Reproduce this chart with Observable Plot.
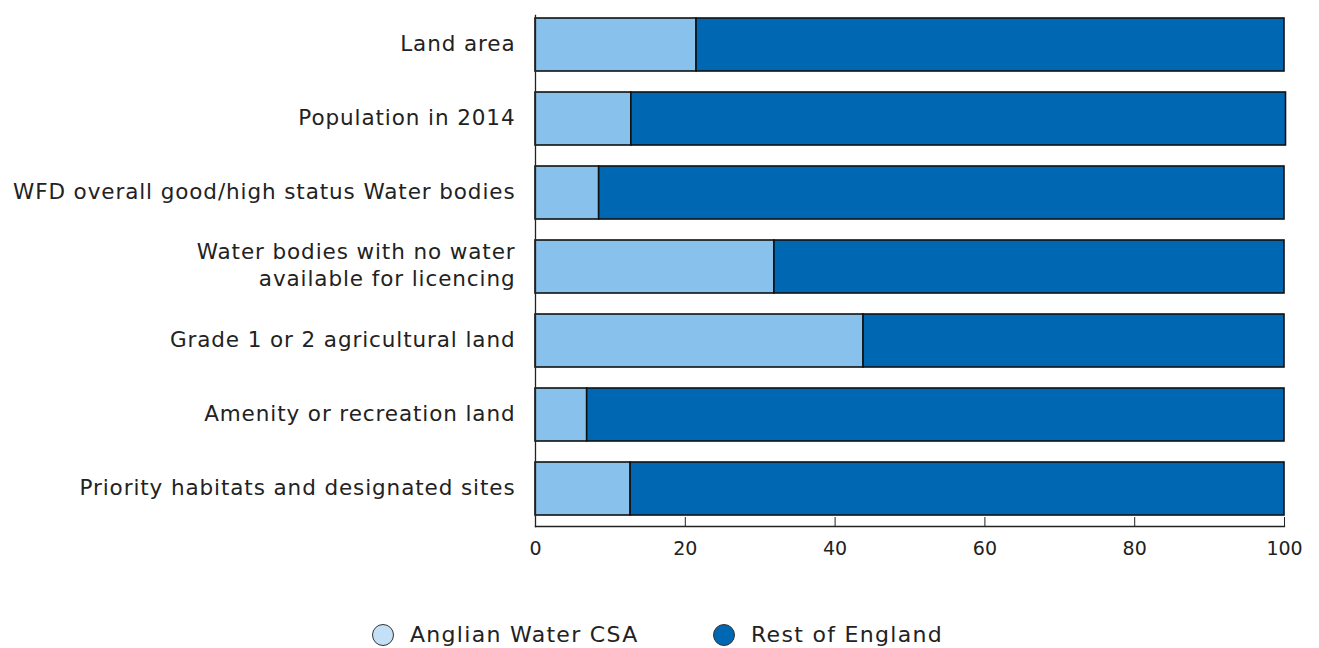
<!DOCTYPE html>
<html>
<head>
<meta charset="utf-8">
<script src="https://cdn.jsdelivr.net/npm/d3@7"></script>
<script src="https://cdn.jsdelivr.net/npm/@observablehq/plot@0.6"></script>
<style>
  html, body { margin: 0; padding: 0; background: #fff; }
  body { width: 1319px; height: 648px; overflow: hidden; font-family: "DejaVu Sans", sans-serif; color: #222; }
  #legend { position: relative; height: 40px; margin-top: 47px; }
  .item { position: absolute; top: 0; display: flex; align-items: center; font-size: 22px; letter-spacing: 1.3px; }
  .sw { width: 22px; height: 22px; border-radius: 50%; border: 1.5px solid #333; box-sizing: border-box; margin-right: 16px; }
</style>
</head>
<body>
<div id="chart"></div>
<div id="legend"></div>
<script>
const categories = [
  "Land area",
  "Population in 2014",
  "WFD overall good/high status Water bodies",
  "Water bodies with no water\navailable for licencing",
  "Grade 1 or 2 agricultural land",
  "Amenity or recreation land",
  "Priority habitats and designated sites"
];
const seriesNames = ["Anglian Water CSA", "Rest of England"];
const anglian = [21.5, 12.8, 8.5, 31.9, 43.8, 6.9, 12.7];
const restOfEngland = [78.5, 87.4, 91.5, 68.1, 56.2, 93.1, 87.3];
const xTicks = [0, 20, 40, 60, 80, 100];
const colors = ["#88c2ec", "#0068b3"];

const data = [];
categories.forEach((c, i) => {
  data.push({category: c, series: seriesNames[0], value: anglian[i]});
  data.push({category: c, series: seriesNames[1], value: restOfEngland[i]});
});

const chart = Plot.plot({
  width: 1319,
  height: 575,
  marginLeft: 535,
  marginRight: 35,
  marginTop: 15,
  marginBottom: 49,
  style: {fontFamily: "DejaVu Sans, sans-serif", color: "#222", background: "#fff"},
  x: {domain: [0, 100], ticks: xTicks},
  y: {domain: categories, range: [17, 516], paddingInner: 0.287, paddingOuter: 0},
  color: {domain: seriesNames, range: colors},
  marks: [
    Plot.barX(data, Plot.stackX({
      x: "value", y: "category", fill: "series", order: seriesNames,
      stroke: "#111", strokeWidth: 1.6
    })),
    Plot.frame({anchor: "left", stroke: "#222", strokeWidth: 1.3}),
    Plot.frame({anchor: "bottom", stroke: "#222", strokeWidth: 1.3}),
    Plot.axisX({ticks: xTicks, tickSize: -9, tickPadding: 24, fontSize: 19, label: null, stroke: "#222"}),
    Plot.axisY({tickSize: 0, tickPadding: 20, fontSize: 21.5, dy: -3, label: null, lineHeight: 1.27})
  ]
});
d3.select(chart).selectAll('g[aria-label="y-axis tick label"] text').style("letter-spacing", "0.9px");
document.getElementById("chart").appendChild(chart);

const legend = document.getElementById("legend");
const pos = [372, 713];
seriesNames.forEach((s, i) => {
  const item = document.createElement("div");
  item.className = "item";
  item.style.left = pos[i] + "px";
  const sw = document.createElement("span");
  sw.className = "sw";
  sw.style.background = i === 0 ? "#c4e0f6" : colors[1];
  const t = document.createElement("span");
  t.textContent = s;
  item.appendChild(sw);
  item.appendChild(t);
  legend.appendChild(item);
});
</script>
</body>
</html>
